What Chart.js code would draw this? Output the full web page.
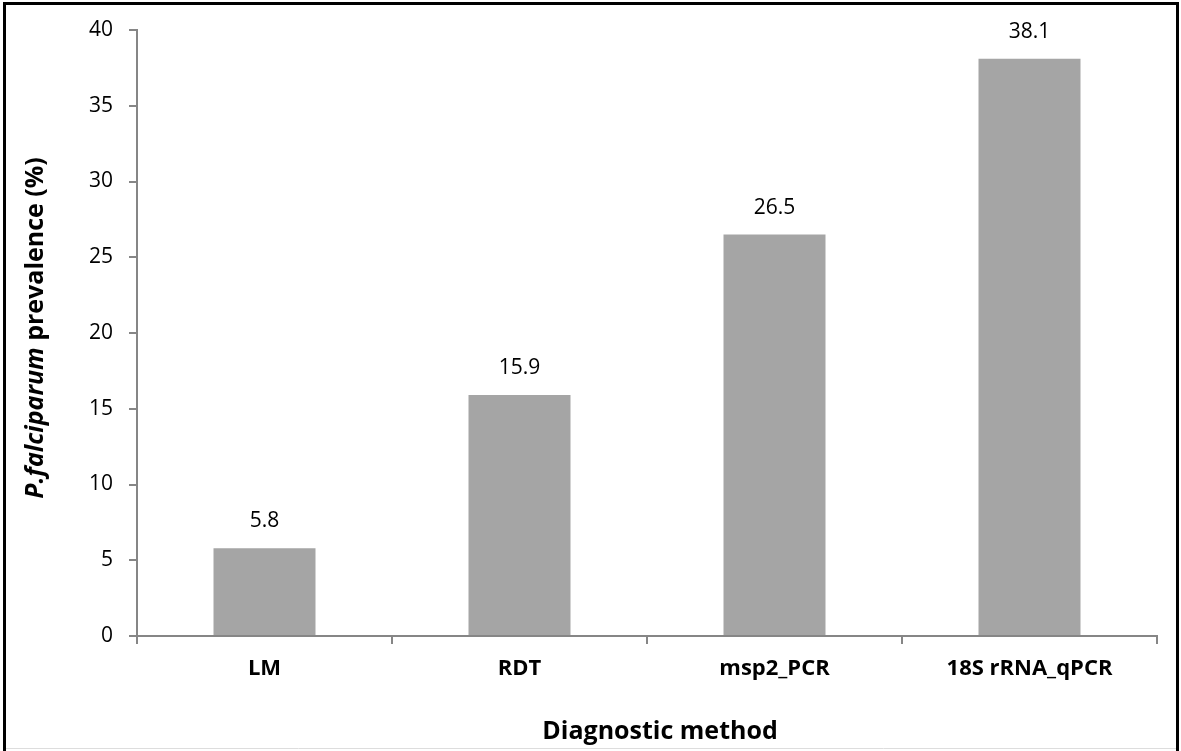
<!DOCTYPE html>
<html>
<head>
<meta charset="utf-8">
<script src="https://cdn.jsdelivr.net/npm/chart.js@4"></script>
<style>
  html, body { margin: 0; padding: 0; background: #fff; }
  #wrap { width: 1181px; height: 751px; position: relative; }
</style>
</head>
<body>
<div id="wrap"><canvas id="myChart" width="1181" height="751"></canvas></div>
<script>
var methods = ["LM", "RDT", "msp2_PCR", "18S rRNA_qPCR"];
var prevalence = [5.8, 15.9, 26.5, 38.1];
var yTicks = [0, 5, 10, 15, 20, 25, 30, 35, 40];

var FONT = "'Open Sans', Lato, sans-serif";

// value labels over the bars
var barLabels = {
    id: 'barLabels',
    afterDatasetsDraw: function (chart) {
        var ctx = chart.ctx;
        var meta = chart.getDatasetMeta(0);
        ctx.save();
        ctx.font = "21px " + FONT;
        ctx.fillStyle = "#000";
        ctx.textAlign = "center";
        ctx.textBaseline = "middle";
        meta.data.forEach(function (bar, i) {
            ctx.fillText(prevalence[i].toFixed(1), bar.x, bar.y - 27);
        });
        ctx.restore();
    }
};

// axis titles (mixed italic) and frame
var decor = {
    id: 'decor',
    afterDraw: function (chart) {
        var ctx = chart.ctx;
        var area = chart.chartArea;
        ctx.save();
        ctx.fillStyle = "#000";
        ctx.textBaseline = "middle";

        // x title
        ctx.font = "bold 25px " + FONT;
        ctx.textAlign = "center";
        ctx.fillText("Diagnostic method", 660, 732);

        // y title
        var p1 = "P.falciparum", p2 = " prevalence (%)";
        ctx.translate(36, (area.top + area.bottom) / 2 - 5);
        ctx.rotate(-Math.PI / 2);
        ctx.font = "italic bold 25px " + FONT;
        var w1 = ctx.measureText(p1).width;
        ctx.font = "bold 25px " + FONT;
        var w2 = ctx.measureText(p2).width;
        var start = -(w1 + w2) / 2;
        ctx.textAlign = "left";
        ctx.font = "italic bold 25px " + FONT;
        ctx.fillText(p1, start, 0);
        ctx.font = "bold 25px " + FONT;
        ctx.fillText(p2, start + w1, 0);
        ctx.restore();

        // outer frame
        ctx.save();
        ctx.strokeStyle = "#000";
        ctx.lineWidth = 3;
        ctx.beginPath();
        ctx.moveTo(4.5, 751);
        ctx.lineTo(4.5, 3.5);
        ctx.lineTo(1177.5, 3.5);
        ctx.lineTo(1177.5, 751);
        ctx.stroke();
        ctx.strokeStyle = "#ddd";
        ctx.lineWidth = 1;
        ctx.beginPath();
        ctx.moveTo(6, 748.5);
        ctx.lineTo(1176, 748.5);
        ctx.stroke();
        ctx.restore();
    }
};

var ctx = document.getElementById("myChart");
var myChart = new Chart(ctx, {
    type: 'bar',
    data: {
        labels: methods,
        datasets: [{
            label: "Prevalence",
            backgroundColor: "#a5a5a5",
            borderWidth: 0,
            barPercentage: 0.4,
            categoryPercentage: 1.0,
            data: prevalence
        }]
    },
    options: {
        responsive: false,
        animation: false,
        layout: { padding: { top: 30, right: 24, left: 0, bottom: 0 } },
        plugins: {
            legend: { display: false },
            tooltip: { enabled: false }
        },
        scales: {
            x: {
                afterFit: function (scale) { scale.height = 115; },
                grid: {
                    offset: true,
                    drawOnChartArea: false,
                    drawTicks: true,
                    tickLength: 8,
                    color: "#868686",
                    lineWidth: 2
                },
                border: { color: "#868686", width: 2 },
                ticks: {
                    color: "#000",
                    padding: 12,
                    font: { family: FONT, size: 22, weight: "bold" }
                }
            },
            y: {
                min: 0,
                max: 40,
                afterFit: function (scale) { scale.width = 137; },
                afterBuildTicks: function (scale) {
                    scale.ticks = yTicks.map(function (v) { return { value: v }; });
                },
                grid: {
                    drawOnChartArea: false,
                    drawTicks: true,
                    tickLength: 8,
                    color: "#868686",
                    lineWidth: 2
                },
                border: { color: "#868686", width: 2 },
                ticks: {
                    color: "#000",
                    padding: 16,
                    font: { family: FONT, size: 21 }
                }
            }
        }
    },
    plugins: [barLabels, decor]
});
</script>
</body>
</html>
